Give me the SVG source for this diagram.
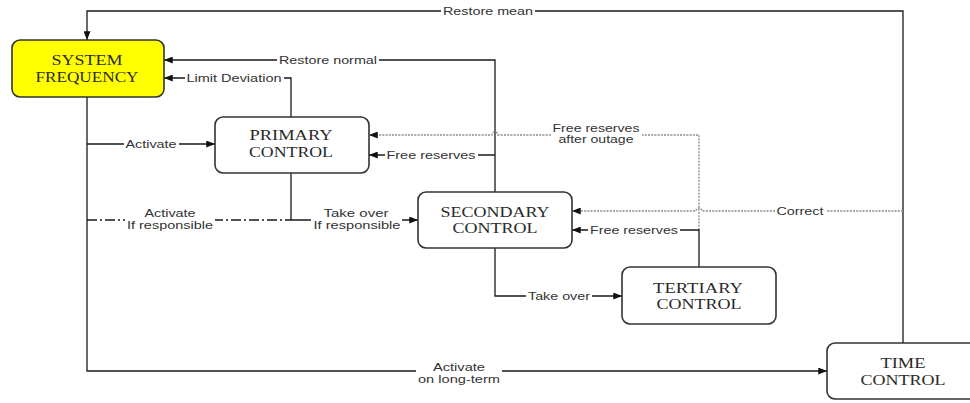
<svg xmlns="http://www.w3.org/2000/svg" width="970" height="403" viewBox="0 0 970 403">
  <style>
    .box { fill: #ffffff; stroke: #333333; stroke-width: 1.6; }
    .sys { fill: #ffff00; }
    .ntxt { font-family: "Liberation Serif", "Times New Roman", serif; font-size: 15px; fill: #2a2a2a; text-anchor: middle; }
    .wire { fill: none; stroke: #1a1a1a; stroke-width: 1.3; }
    .dot { fill: none; stroke: #8a8a8a; stroke-width: 1.3; stroke-dasharray: 2 1.2; }
    .dashdot { fill: none; stroke: #1a1a1a; stroke-width: 1.3; stroke-dasharray: 10 3 2 3; }
    .lbl { font-family: "Liberation Sans", Arial, sans-serif; font-size: 11px; fill: #333333; text-anchor: middle; }
    .bg { fill: #ffffff; }
  </style>
  <defs>
    <marker id="arrow" viewBox="0 0 10 8" refX="10" refY="4" markerWidth="9" markerHeight="7" markerUnits="userSpaceOnUse" orient="auto">
      <path d="M0,0 L10,4 L0,8 Z" fill="#111111"/>
    </marker>
  </defs>

  <rect width="970" height="403" fill="#ffffff"/>

  <!-- connectors -->
  <g id="connectors">
    <path class="wire" d="M903,343 V11 H87 V40" marker-end="url(#arrow)"/>
    <path class="wire" d="M495,192 V60 H164" marker-end="url(#arrow)"/>
    <path class="wire" d="M291,117 V78 H164" marker-end="url(#arrow)"/>
    <path class="wire" d="M87,97 V371 H827" marker-end="url(#arrow)"/>
    <path class="wire" d="M87,144 H215" marker-end="url(#arrow)"/>
    <path class="dashdot" d="M87,220 H291"/>
    <path class="wire" d="M291,173 V220 H418" marker-end="url(#arrow)"/>
    <path class="wire" d="M495,155 H369" marker-end="url(#arrow)"/>
    <path class="dot" d="M699,230 V135 H498 A3,3 0 0 0 492,135 H369" marker-end="url(#arrow)"/>
    <path class="wire" d="M495,248 V296 H622" marker-end="url(#arrow)"/>
    <path class="wire" d="M699,267 V230 H572" marker-end="url(#arrow)"/>
    <path class="dot" d="M903,211 H702 A3,3 0 0 0 696,211 H572" marker-end="url(#arrow)"/>

    <!-- connector labels -->
    <rect class="bg" x="441" y="5" width="94" height="12"/>
    <text class="lbl" x="488" y="15" textLength="90" lengthAdjust="spacingAndGlyphs">Restore mean</text>

    <rect class="bg" x="277" y="54" width="102" height="12"/>
    <text class="lbl" x="328" y="64" textLength="98" lengthAdjust="spacingAndGlyphs">Restore normal</text>

    <rect class="bg" x="185" y="72" width="99" height="12"/>
    <text class="lbl" x="234" y="82" textLength="95" lengthAdjust="spacingAndGlyphs">Limit Deviation</text>

    <rect class="bg" x="124" y="138" width="55" height="12"/>
    <text class="lbl" x="151" y="148" textLength="51" lengthAdjust="spacingAndGlyphs">Activate</text>

    <rect class="bg" x="125" y="207" width="90" height="26"/>
    <text class="lbl" x="170" y="217" textLength="51" lengthAdjust="spacingAndGlyphs">Activate</text>
    <text class="lbl" x="170" y="229" textLength="86" lengthAdjust="spacingAndGlyphs">If responsible</text>

    <rect class="bg" x="311" y="207" width="91" height="26"/>
    <text class="lbl" x="356" y="217" textLength="65" lengthAdjust="spacingAndGlyphs">Take over</text>
    <text class="lbl" x="357" y="229" textLength="87" lengthAdjust="spacingAndGlyphs">If responsible</text>

    <rect class="bg" x="385" y="149" width="93" height="12"/>
    <text class="lbl" x="431" y="159" textLength="89" lengthAdjust="spacingAndGlyphs">Free reserves</text>

    <rect class="bg" x="551" y="122" width="91" height="25"/>
    <text class="lbl" x="596" y="132" textLength="87" lengthAdjust="spacingAndGlyphs">Free reserves</text>
    <text class="lbl" x="596" y="143" textLength="75" lengthAdjust="spacingAndGlyphs">after outage</text>

    <rect class="bg" x="588" y="224" width="92" height="12"/>
    <text class="lbl" x="634" y="234" textLength="88" lengthAdjust="spacingAndGlyphs">Free reserves</text>

    <rect class="bg" x="775" y="205" width="51" height="12"/>
    <text class="lbl" x="800" y="215" textLength="47" lengthAdjust="spacingAndGlyphs">Correct</text>

    <rect class="bg" x="526" y="290" width="66" height="12"/>
    <text class="lbl" x="559" y="300" textLength="62" lengthAdjust="spacingAndGlyphs">Take over</text>

    <rect class="bg" x="416" y="361" width="86" height="25"/>
    <text class="lbl" x="459" y="371" textLength="52" lengthAdjust="spacingAndGlyphs">Activate</text>
    <text class="lbl" x="459" y="383" textLength="82" lengthAdjust="spacingAndGlyphs">on long-term</text>
  </g>

  <!-- nodes -->
  <g id="system-frequency">
    <rect class="box sys" x="12" y="40" width="152" height="57" rx="8"/>
    <text class="ntxt" x="87" y="65" textLength="71" lengthAdjust="spacingAndGlyphs">SYSTEM</text>
    <text class="ntxt" x="87" y="82" textLength="103" lengthAdjust="spacingAndGlyphs">FREQUENCY</text>
  </g>

  <g id="primary-control">
    <rect class="box" x="215" y="117" width="154" height="56" rx="8"/>
    <text class="ntxt" x="291" y="140" textLength="83" lengthAdjust="spacingAndGlyphs">PRIMARY</text>
    <text class="ntxt" x="291" y="157" textLength="84" lengthAdjust="spacingAndGlyphs">CONTROL</text>
  </g>

  <g id="secondary-control">
    <rect class="box" x="418" y="192" width="154" height="56" rx="8"/>
    <text class="ntxt" x="495" y="217" textLength="109" lengthAdjust="spacingAndGlyphs">SECONDARY</text>
    <text class="ntxt" x="495" y="233" textLength="85" lengthAdjust="spacingAndGlyphs">CONTROL</text>
  </g>

  <g id="tertiary-control">
    <rect class="box" x="622" y="267" width="154" height="57" rx="8"/>
    <text class="ntxt" x="698" y="293" textLength="90" lengthAdjust="spacingAndGlyphs">TERTIARY</text>
    <text class="ntxt" x="699" y="309" textLength="85" lengthAdjust="spacingAndGlyphs">CONTROL</text>
  </g>

  <g id="time-control">
    <rect class="box" x="827" y="343" width="154" height="56" rx="8"/>
    <text class="ntxt" x="903" y="368" textLength="45" lengthAdjust="spacingAndGlyphs">TIME</text>
    <text class="ntxt" x="903" y="385" textLength="85" lengthAdjust="spacingAndGlyphs">CONTROL</text>
  </g>
</svg>
